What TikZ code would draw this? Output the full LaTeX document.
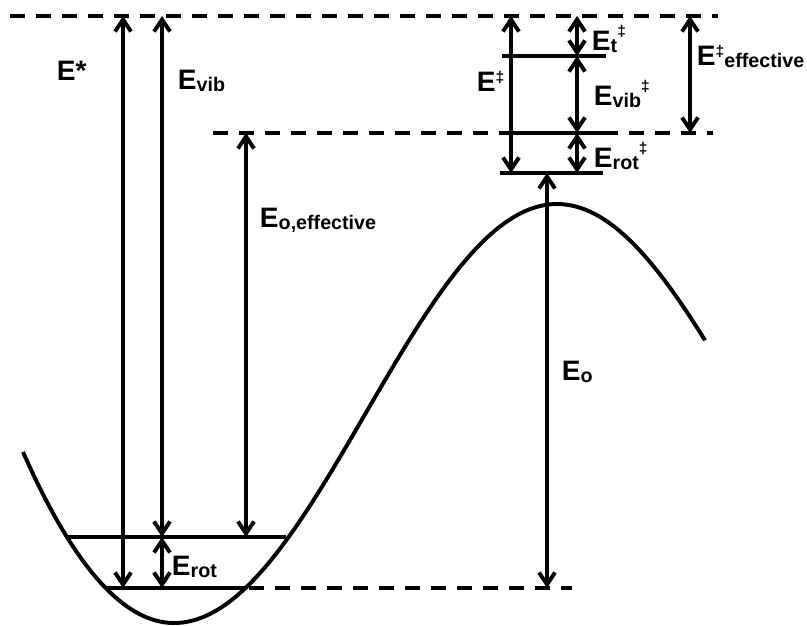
\documentclass[tikz,border=0pt]{standalone}
\usepackage{fontspec}
\setmainfont{Liberation Sans}
\usetikzlibrary{arrows.meta}
\newcommand{\lsub}[1]{\raisebox{-2pt}{\fontsize{14}{16}\selectfont #1}}
\newcommand{\ddg}{\raisebox{6.3pt}{\fontsize{11}{12}\selectfont ‡}}
\newcommand{\ddgup}{\raisebox{9.8pt}{\fontsize{11}{12}\selectfont ‡}}

\begin{document}
\begin{tikzpicture}[x=0.025cm, y=-0.025cm, line width=2.8pt,
	limit/.style={dash pattern=on 0.375cm off 0.275cm},
	gap/.style={{Straight Barb[length=3mm,width=4mm]}-{Straight Barb[length=3mm,width=4mm]}},
	lbl/.style={anchor=base west, inner sep=0pt, font=\fontsize{20}{24}\selectfont\bfseries}]
	\useasboundingbox (0,0) rectangle (807,625);
	% Potential curve: parabolic well, then the barrier
	\draw plot[domain=23:174, samples=40] (\x, {623-171*((\x-174)/151)^2})
		-- plot[domain=174:705, samples=120] (\x, {413.5+209.5*cos(((\x-174)/383)*180)});
	% Limits (dashed):
	\coordinate (topL) at (10,16);    \coordinate (topR) at (718,16);
	\coordinate (midL) at (213,133);  \coordinate (midR) at (713,133);
	\coordinate (botL) at (249,588);  \coordinate (botR) at (572,588);
	\draw[limit] (topL) -- (topR);
	\draw[limit] (midL) -- (midR);
	\draw[limit] (botL) -- (botR);
	% Levels in the well and at the barrier:
	\coordinate (vibL) at (67,537);   \coordinate (vibR) at (286,537);
	\coordinate (zeroL) at (106,588); \coordinate (zeroR) at (244,588);
	\coordinate (tL) at (502,56);     \coordinate (tR) at (606,56);
	\coordinate (rotL) at (500,133);  \coordinate (rotR) at (603,133);
	\coordinate (tsL) at (500,173);   \coordinate (tsR) at (603,173);
	\draw (vibL) -- (vibR);
	\draw (zeroL) -- (zeroR);
	\draw (tL) -- (tR);
	\draw (rotL) -- (rotR);
	\draw (tsL) -- (tsR);
	% Arrow ends:
	\coordinate (estarT) at (123,16);  \coordinate (estarB) at (123,588);
	\coordinate (evibT) at (162,16);   \coordinate (evibB) at (162,537);
	\coordinate (erotB) at (162,588);
	\coordinate (eoeffT) at (246,133); \coordinate (eoeffB) at (246,537);
	\coordinate (eoT) at (547,173);    \coordinate (eoB) at (547,588);
	\coordinate (edgT) at (511,16);    \coordinate (edgB) at (511,173);
	\coordinate (etT) at (577,16);     \coordinate (etB) at (577,56);
	\coordinate (evdgB) at (577,133);  \coordinate (erdgB) at (577,173);
	\coordinate (effT) at (690,16);    \coordinate (effB) at (690,133);
	\draw[gap] (estarT) -- (estarB);
	\draw[gap] (evibT) -- (evibB);
	\draw[gap] (evibB) -- (erotB);
	\draw[gap] (eoeffT) -- (eoeffB);
	\draw[gap] (eoT) -- (eoB);
	\draw[gap] (edgT) -- (edgB);
	\draw[gap] (etT) -- (etB);
	\draw[gap] (etB) -- (evdgB);
	\draw[gap] (evdgB) -- (erdgB);
	\draw[gap] (effT) -- (effB);
	% Labels:
	\node[lbl] (Estar) at (55,80) {E*};
	\node[lbl] (Evib) at (176,89) {E\lsub{vib}};
	\node[lbl] (Eoeff) at (258,227) {E\lsub{o,effective}};
	\node[lbl] (Erot) at (170,575) {E\lsub{rot}};
	\node[lbl] (Eo) at (560,380) {E\lsub{o}};
	\node[lbl] (Edg) at (475,91) {E\ddg};
	\node[lbl] (Et) at (590,50) {E\lsub{t}\ddgup};
	\node[lbl] (Evibdg) at (592,105) {E\lsub{vib}\ddgup};
	\node[lbl] (Erotdg) at (592,167) {E\lsub{rot}\ddgup};
	\node[lbl] (Eeffdg) at (695,65) {E\ddg\lsub{effective}};
\end{tikzpicture}
\end{document}
